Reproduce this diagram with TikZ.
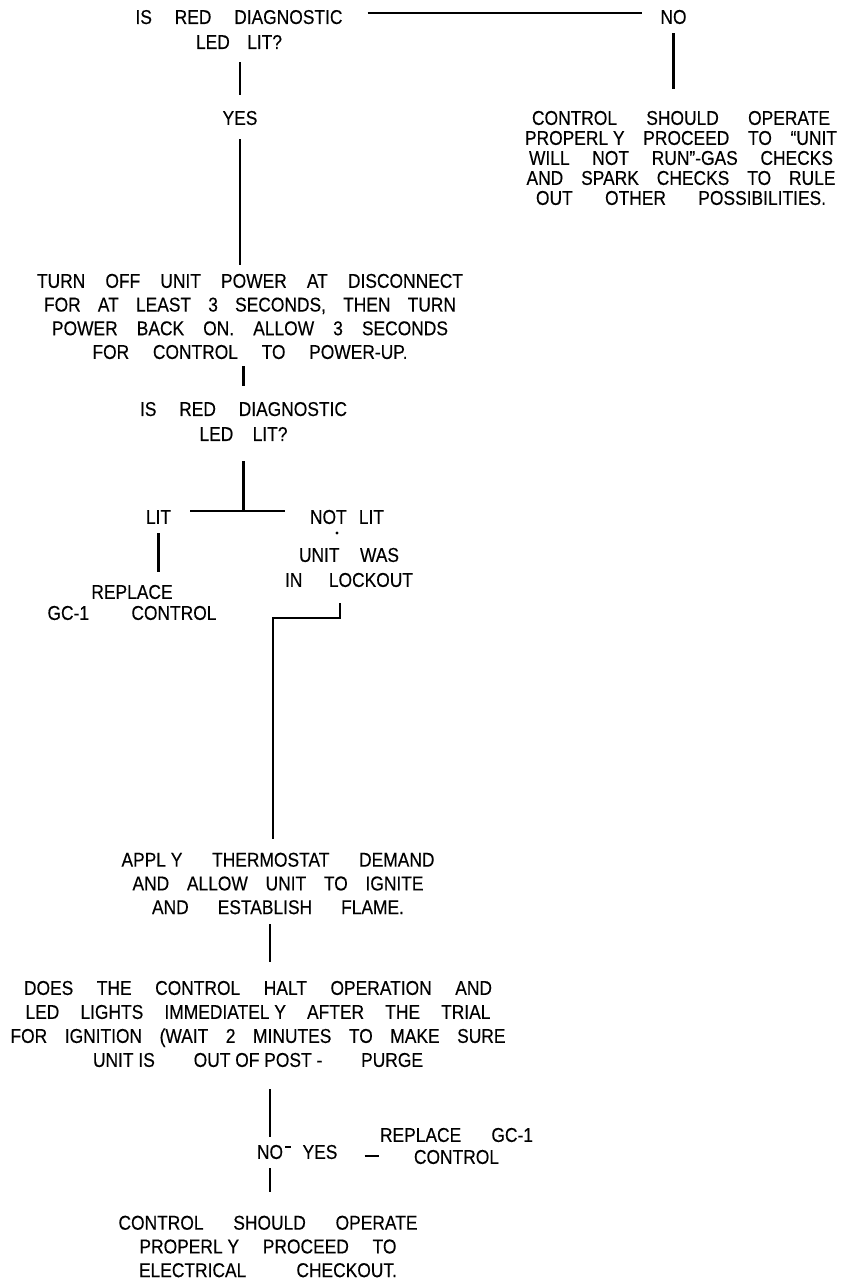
\documentclass[tikz,border=0pt]{standalone}
\usepackage{fontspec}
\setmainfont{Liberation Sans}[FakeStretch=0.87,FakeBold=0.3]
\usetikzlibrary{calc}
\newlength{\pxu}
\setlength{\pxu}{0.5pt}
\newcommand{\jl}[2]{\makebox[#1\pxu][s]{#2}}

\begin{document}
\begin{tikzpicture}[x=0.5pt,y=-0.5pt,line width=1.2pt]
  \tikzstyle{txt}=[inner sep=0pt,align=center,font={\fontsize{10}{11.85}\selectfont}]
  \tikzstyle{ask}=[txt,font={\fontsize{10}{12.5}\selectfont}]
  \useasboundingbox (0,0) rectangle (851,1283);
  % first check
  \node[ask] (q1) at (239,29.5) {\jl{207}{IS RED DIAGNOSTIC}\\\jl{86}{LED LIT?}};
  \node[txt] (no1) at (673.5,17) {NO};
  \node[txt,font={\fontsize{10}{10}\selectfont}] (ctrl1) at (681,158) {\jl{298}{CONTROL SHOULD OPERATE}\\\jl{312}{\mbox{PROPERL Y} PROCEED TO “UNIT}\\\jl{304}{WILL NOT RUN”-GAS CHECKS}\\\jl{309}{AND SPARK CHECKS TO RULE}\\\jl{290}{OUT OTHER POSSIBILITIES.}};
  \node[txt] (yes1) at (240,118) {YES};
  \node[txt] (pwr) at (250,316.5) {\jl{426}{TURN OFF UNIT POWER AT DISCONNECT}\\\jl{412}{FOR AT LEAST 3 SECONDS, THEN TURN}\\\jl{396}{POWER BACK ON. ALLOW 3 SECONDS}\\\jl{315}{FOR CONTROL TO POWER-UP.}};
  % second check
  \node[ask] (q2) at (243.5,421.5) {\jl{207}{IS RED DIAGNOSTIC}\\\jl{88}{LED LIT?}};
  \node[txt] (lit) at (158.5,517) {LIT};
  \node[txt] (notlit) at (347,517) {\jl{74}{NOT LIT}};
  \node[ask] (lockout) at (349,567.5) {\jl{100}{UNIT WAS}\\\jl{128}{IN LOCKOUT}};
  \node[txt,font={\fontsize{10}{10.5}\selectfont}] (repl1) at (132,602.5) {REPLACE\\\jl{169}{GC-1 CONTROL}};
  \node[txt] (apply) at (278,883.5) {\jl{313}{\mbox{APPL Y} THERMOSTAT DEMAND}\\\jl{291}{AND ALLOW UNIT TO IGNITE}\\\jl{252}{AND ESTABLISH FLAME.}};
  \node[txt,font={\fontsize{10}{12}\selectfont}] (halt) at (258,1024) {\jl{468}{DOES THE CONTROL HALT OPERATION AND}\\\jl{465}{LED LIGHTS \mbox{IMMEDIATEL Y} AFTER THE TRIAL}\\\jl{495}{FOR IGNITION (WAIT 2 MINUTES TO MAKE SURE}\\\jl{330}{\mbox{UNIT IS} \mbox{OUT OF POST -} PURGE}};
  \node[txt] (no2) at (270,1152) {NO};
  \node[txt] (yes2) at (320,1152) {YES};
  \node[txt,font={\fontsize{10}{11}\selectfont}] (repl2) at (456.5,1146) {\jl{153}{REPLACE GC-1}\\CONTROL};
  \node[txt] (ok2) at (268,1246.5) {\jl{299}{CONTROL SHOULD OPERATE}\\\jl{257}{\mbox{PROPERL Y} PROCEED TO}\\\jl{258}{ELECTRICAL CHECKOUT.}};
  \coordinate (fork) at (243.5,511);
  \coordinate (bend) at (273,618);
  \draw[shorten <=12pt,shorten >=8.5pt] ($(q1.east |- no1.west)+(0,-4)$) -- ($(no1.west)+(0,-4)$);
  \draw[shorten <=4pt,shorten >=10.5pt] (no1.south) -- (no1.south |- ctrl1.north);
  \draw[shorten <=6pt,shorten >=7.5pt] (yes1.north |- q1.south) -- (yes1.north);
  \draw[shorten <=6.5pt,shorten >=4pt] (yes1.south) -- (yes1.south |- pwr.north);
  \draw[shorten <=3pt,shorten >=7.5pt] (q2.north |- pwr.south) -- (q2.north);
  \draw[shorten <=9.5pt] (q2.south) -- (fork);
  \draw[shorten <=9pt,shorten >=12pt] (lit.east |- fork) -- (notlit.west |- fork);
  \fill (337,533) circle (0.8pt);
  \draw[shorten <=4pt,shorten >=6pt] (lit.south) -- (lit.south |- repl1.north);
  \draw[shorten <=7.5pt,shorten >=6.5pt] ($(lockout.south)+(-9,0)$) |- (bend) -- (bend |- apply.north);
  \draw[shorten <=4.5pt,shorten >=9pt] (apply.south -| no2.north) -- (halt.north -| no2.north);
  \draw[shorten <=10.5pt,shorten >=3.5pt] (halt.south -| no2.north) -- (no2.north);
  \draw[shorten <=0.5pt,shorten >=5pt] ($(no2.east)+(0,-5)$) -- ($(yes2.west)+(0,-5)$);
  \draw[shorten <=13pt] ($(yes2.east)+(0,4)$) -- ($(yes2.east -| repl2.west)+(0,4)$);
  \draw[shorten <=4pt,shorten >=11.5pt] (no2.south) -- (no2.south |- ok2.north);
\end{tikzpicture}
\end{document}
